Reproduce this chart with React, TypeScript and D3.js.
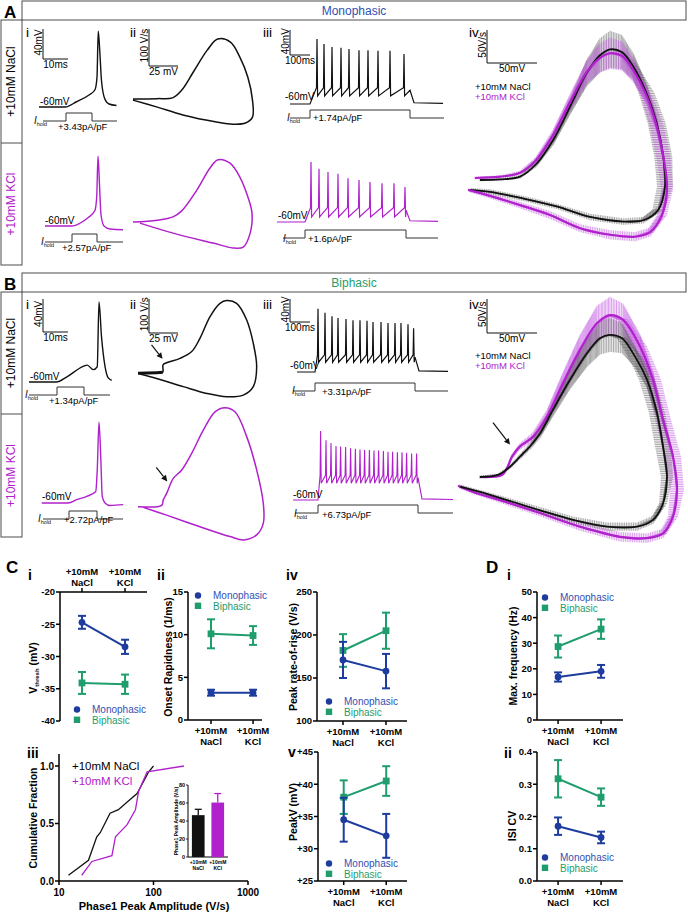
import React from 'react';
import * as d3 from 'd3';

type P = [number, number];

const FONT = "'Liberation Sans', Arial, Helvetica, sans-serif";
const BLUE = '#1d3c9d';
const BLUE_T = '#3050b4';
const GREEN = '#1f9d6c';
const MAG = '#b020cc';
const MAG_ERR = '#c25be0';
const INK = '#111111';
const GREY = '#4d4d4d';

// ================= DATA: panels A/B =================
// i: membrane potential traces (ms, mV)
const aiNaClTrace: P[] = [[0, -60], [10.5, -60], [15, -53], [20, -44], [22.4, -37], [23.2, -20], [23.7, 41], [24.3, 15], [25, -25], [26.3, -49], [28, -56], [31, -58]];
const aiKClTrace: P[] = [[2.4, -60], [13.2, -60], [16.5, -56], [19.6, -49], [22.4, -39], [23.1, -20], [23.6, 33], [24.2, -5], [24.8, -45], [26, -60], [28.4, -64], [33.6, -65]];
const biNaClTrace: P[] = [[0, -60], [11, -60], [15, -54], [21.7, -41], [23.3, -39.5], [25.7, -45], [27.3, -41.5], [28, 37], [29, -5], [30.4, -41], [31.7, -55], [33.1, -58]];
const biKClTrace: P[] = [[5.1, -60], [15.7, -60], [19.1, -56], [23.1, -52], [26.7, -46], [27.3, -20], [28, 38], [28.7, -4], [29.3, -52], [30.4, -60], [32.4, -63], [37.7, -62]];
// i: current steps (ms, pA/pF)
const aiNaClStim: P[] = [[1.6, 0], [10.8, 0], [10.8, 3.43], [21.2, 3.43], [21.2, 0], [31.2, 0]];
const aiKClStim: P[] = [[2.4, 0], [13.2, 0], [13.2, 2.57], [23.2, 2.57], [23.2, 0], [33.6, 0]];
const biNaClStim: P[] = [[0, 0], [11.2, 0], [11.2, 1.34], [22, 1.34], [22, 0], [32.4, 0]];
const biKClStim: P[] = [[5.6, 0], [16, 0], [16, 2.72], [27.2, 2.72], [27.2, 0], [37.6, 0]];

// ii: phase plots (mV, V/s)
const aiiNaCl: P[] = [[-60, 0], [-39, 1], [-26, 3], [-18, 24], [-8, 73], [4, 132], [13, 162], [24, 154], [32, 114], [39, 59], [43, -3], [43, -49], [37, -65], [26, -68], [12, -62], [-17, -43], [-39, -22], [-60, -3]];
const aiiKCl: P[] = [[-60, 0], [-39, 5], [-25.5, 14], [-18, 30], [-5, 86], [6.4, 146], [13.3, 168], [23.6, 159], [32, 122], [39, 68], [42.6, 24], [41, -30], [35, -68], [26, -70], [9, -57], [-25.5, -30], [-54, -3]];
const biiNaCl: P[] = [[-60, -1], [-44, 1], [-38.7, 2], [-38.4, 24], [-35.4, 30], [-23.8, 43], [-13.7, 63], [-6.6, 102], [2.1, 166], [10.7, 205], [16.5, 213], [25, 205], [33.7, 156], [39.4, 87], [42.3, 19], [39.4, -40], [30.8, -65], [16.5, -70], [-0.8, -60], [-21, -40], [-44, -16], [-58.3, -3]];
const biiKCl: P[] = [[-60, 1], [-39.6, 5], [-38.2, 21], [-35.3, 40], [-29.6, 84], [-22.3, 109], [-13.7, 158], [-3.7, 226], [6.4, 280], [15, 292], [23.6, 280], [33.7, 207], [42.3, 109], [48, 11], [48, -48], [42.3, -82], [30.8, -97], [19.3, -87], [-6.6, -58], [-35.3, -24], [-55.4, -1]];

// iii: spike trains — spike times (ms) and peak potentials (mV)
const aiiiNaClSpikeT = [135, 170, 210, 255, 295, 345, 390, 440, 500, 570];
const aiiiNaClPeak = [44, 36, 31, 30, 28, 26, 26, 25, 25, 20];
const aiiiKClSpikeT = [170, 210, 255, 305, 355, 410, 465, 525, 585, 640];
const aiiiKClPeak = [36, 25, 20, 17, 10, 7, 4, 2, 2, -4];
const biiiNaClSpikeT = [140, 175, 210, 240, 280, 315, 350, 385, 415, 455, 490, 525, 555, 590, 618];
const biiiNaClPeak = [50, 43, 37, 34, 32, 30, 30, 29, 27, 27, 25, 25, 25, 23, 16];
const biiiKClSpikeT = [138, 165, 190, 215, 238, 263, 288, 312, 335, 358, 382, 405, 428, 452, 475, 498, 522, 545, 568, 593, 618];
const biiiKClPeak = [60, 44, 39, 34, 33, 32, 30, 29, 28, 27, 27, 26, 26, 25, 24, 24, 23, 23, 22, 21, 21];
const aiiiNaClStim: P[] = [[0, 0], [100, 0], [100, 1.74], [600, 1.74], [600, 0], [770, 0]];
const aiiiKClStim: P[] = [[30, 0], [140, 0], [140, 1.6], [645, 1.6], [645, 0], [805, 0]];
const biiiNaClStim: P[] = [[15, 0], [125, 0], [125, 3.31], [625, 3.31], [625, 0], [790, 0]];
const biiiKClStim: P[] = [[10, 0], [125, 0], [125, 6.73], [625, 6.73], [625, 0], [800, 0]];

// iv: averaged phase plots (mV, V/s) with SEM in mV (ex) and V/s (ey)
const aivNaCl: P[] = [[-60, 0], [-40, 1], [-20, 5], [-3.3, 25], [13.3, 61], [30, 111], [46.7, 162], [60, 189], [70, 198], [81.7, 194], [93.3, 172], [106.7, 131], [116.7, 86], [123.3, 35], [125, -10], [118.3, -45], [103.3, -61], [83.3, -63], [50, -56], [16.7, -40], [-16.7, -28], [-50, -18], [-70, -15]];
const aivNaClEx = [1, 1, 1, 2, 2, 2, 2, 2, 2, 3, 5, 8, 9, 9, 8, 6, 4, 3, 2, 2, 2, 2, 1];
const aivNaClEy = [2, 2, 3, 5, 8, 12, 20, 26, 28, 26, 20, 14, 10, 6, 5, 5, 5, 5, 5, 4, 4, 4, 3];
const aivKCl: P[] = [[-65, 3], [-40, 5], [-20, 11], [-4, 30], [13, 68], [30, 118], [47, 164], [60, 185], [70, 192], [82, 188], [93, 167], [107, 126], [117, 80], [124, 30], [127, -15], [122, -53], [110, -79], [95, -86], [70, -83], [40, -73], [10, -53], [-20, -38], [-50, -24], [-72, -15]];
const aivKClEx = [1, 1, 1, 2, 2, 2, 2, 2, 2, 3, 4, 6, 7, 7, 6, 5, 4, 3, 3, 2, 2, 2, 2, 1];
const aivKClEy = [2, 2, 3, 5, 8, 12, 18, 22, 24, 22, 18, 12, 9, 6, 6, 6, 7, 7, 7, 6, 6, 5, 4, 3];
const bivNaCl: P[] = [[-60, 0], [-42, 3], [-30, 15], [-20, 30], [-10, 45], [0, 64], [13, 99], [30, 143], [47, 182], [60, 204], [70, 209], [82, 204], [95, 177], [107, 143], [117, 94], [123, 45], [127, 0], [123, -39], [113, -63], [97, -73], [67, -73], [33, -63], [0, -49], [-33, -34], [-60, -22], [-80, -14]];
const bivNaClEx = [1, 1, 1, 1, 1, 2, 2, 2, 2, 2, 3, 5, 7, 8, 8, 8, 6, 4, 3, 2, 2, 2, 2, 2, 1, 1];
const bivNaClEy = [2, 2, 3, 4, 5, 7, 10, 14, 20, 24, 25, 22, 16, 12, 8, 6, 6, 6, 6, 6, 6, 5, 5, 4, 3, 3];
const bivKCl: P[] = [[-60, 0], [-38, 3], [-33, 13], [-28, 30], [-20, 45], [-7, 59], [7, 89], [23, 138], [40, 187], [57, 226], [70, 238], [83, 231], [100, 192], [113, 143], [123, 84], [133, 30], [137, -19], [133, -58], [123, -83], [107, -90], [80, -88], [40, -73], [0, -53], [-40, -34], [-67, -22], [-82, -13]];
const bivKClEx = [1, 1, 1, 1, 1, 2, 2, 2, 2, 2, 3, 5, 7, 8, 8, 8, 7, 5, 4, 3, 3, 2, 2, 2, 1, 1];
const bivKClEy = [2, 2, 3, 4, 5, 7, 10, 16, 22, 26, 27, 24, 18, 12, 8, 6, 6, 7, 7, 7, 7, 6, 5, 4, 3, 3];

// ================= DATA: panels C/D =================
const categories = ['NaCl', 'KCl'];
const vthreshMono = [-24.7, -28.5];
const vthreshMonoErr = [1.0, 1.1];
const vthreshBi = [-34.1, -34.3];
const vthreshBiErr = [1.7, 1.5];
const onsetMono = [3.2, 3.2];
const onsetMonoErr = [0.35, 0.35];
const onsetBi = [10.1, 9.9];
const onsetBiErr = [1.7, 1.1];
const riseMono = [171, 158];
const riseMonoErr = [21, 20];
const riseBi = [182, 205];
const riseBiErr = [19, 21];
const peakVMono = [34.5, 32.0];
const peakVMonoErr = [3.4, 3.4];
const peakVBi = [38.0, 40.5];
const peakVBiErr = [2.6, 2.3];
const freqMono = [16.8, 19.0];
const freqMonoErr = [1.8, 2.5];
const freqBi = [28.7, 35.5];
const freqBiErr = [4.3, 3.8];
const isiMono = [0.17, 0.135];
const isiMonoErr = [0.027, 0.018];
const isiBi = [0.317, 0.26];
const isiBiErr = [0.058, 0.027];
// C iii cumulative distributions (V/s, fraction)
const cdfNaCl: P[] = [[12.6, 0.05], [20.5, 0.18], [25.1, 0.385], [27.3, 0.42], [34.7, 0.59], [42.5, 0.62], [55, 0.7], [67, 0.76], [89, 0.95], [100, 1.0]];
const cdfKCl: P[] = [[17.4, 0.05], [22.3, 0.17], [36.3, 0.22], [39.6, 0.385], [52.6, 0.49], [64.4, 0.62], [69.6, 0.78], [85.6, 0.95], [210, 1.0]];
const ampMean = [46.5, 60.5];
const ampErr = [6.5, 10];

// ================= helpers =================
const lin = (d0: number, px0: number, pxPerUnit: number) =>
  d3.scaleLinear().domain([d0, d0 + 1]).range([px0, px0 + pxPerUnit]);

function buildTrain(spT: number[], pk: number[], tStart: number, tOn: number, tOff: number, tEnd: number, thr: number, ahp: number): P[] {
  const out: P[] = [[tStart, -60], [tOn, -60]];
  spT.forEach((t, i) => {
    out.push([t - 2.5, thr]);
    out.push([t, pk[i]]);
    out.push([t + 3, ahp]);
  });
  out.push([tOff, thr - 4]);
  out.push([tOff + 20, -58]);
  out.push([tEnd, -59]);
  return out;
}

function pathOf(data: P[], xs: any, ys: any, curve: any = d3.curveLinear) {
  return d3.line<P>().x(d => xs(d[0])).y(d => ys(d[1])).curve(curve)(data) || '';
}

function hatch(pts: P[], ex: number[], ey: number[], xs: any, ys: any, step = 1.8) {
  let d = '';
  const pxV = Math.abs(xs(1) - xs(0));
  const pxDv = Math.abs(ys(1) - ys(0));
  for (let i = 0; i < pts.length - 1; i++) {
    const x1 = xs(pts[i][0]), y1 = ys(pts[i][1]);
    const x2 = xs(pts[i + 1][0]), y2 = ys(pts[i + 1][1]);
    const len = Math.hypot(x2 - x1, y2 - y1);
    const n = Math.max(1, Math.round(len / step));
    for (let k = 0; k < n; k++) {
      const f = k / n;
      const x = x1 + (x2 - x1) * f, y = y1 + (y2 - y1) * f;
      const e1 = ((ey[i] ?? 2) + ((ey[i + 1] ?? 2) - (ey[i] ?? 2)) * f) * pxDv;
      const e2 = ((ex[i] ?? 1) + ((ex[i + 1] ?? 1) - (ex[i] ?? 1)) * f) * pxV;
      d += `M${x.toFixed(2)},${(y - e1).toFixed(2)}V${(y + e1).toFixed(2)}`;
      if (e2 > 1.2) d += `M${(x - e2).toFixed(2)},${y.toFixed(2)}H${(x + e2).toFixed(2)}`;
    }
  }
  return d;
}

function ScaleBar({ x, y, w, h, vLabel, hLabel, fs = 10 }: any) {
  return (
    <g>
      <path d={`M${x},${y}V${y + h}H${x + w}`} fill="none" stroke={INK} strokeWidth={1} />
      <text transform={`translate(${x - 1.5},${y + h * 0.45}) rotate(-90)`} textAnchor="middle" fontSize={fs}>{vLabel}</text>
      <text x={x + w / 2} y={y + h + 9} textAnchor="middle" fontSize={fs}>{hLabel}</text>
    </g>
  );
}

function Arrow({ x1, y1, x2, y2 }: any) {
  const a = Math.atan2(y2 - y1, x2 - x1);
  const L = 6, W = 3;
  const bx = x2 - L * Math.cos(a), by = y2 - L * Math.sin(a);
  const p1 = [bx + W * Math.sin(a), by - W * Math.cos(a)];
  const p2 = [bx - W * Math.sin(a), by + W * Math.cos(a)];
  return (
    <g>
      <line x1={x1} y1={y1} x2={bx} y2={by} stroke={INK} strokeWidth={1.2} />
      <polygon points={`${x2},${y2} ${p1[0]},${p1[1]} ${p2[0]},${p2[1]}`} fill={INK} />
    </g>
  );
}

function IHold({ x, y }: any) {
  return (
    <text x={x} y={y} fontSize={10} fill={INK}>
      <tspan fontStyle="italic">I</tspan>
      <tspan fontSize={5.5} dy={2}>hold</tspan>
    </text>
  );
}

// Current-step trace: height fixed in pixels, time scaled like the voltage trace
function Stim({ data, xs, base, color = '#333' }: any) {
  const amp = d3.max(data, (d: P) => d[1]) as number;
  const ys = d3.scaleLinear().domain([0, amp]).range([base, base - 8]);
  return <path d={pathOf(data, xs, ys)} fill="none" stroke={color} strokeWidth={1} />;
}

// ================= Section A / B =================
function TraceSection({ top, letter, title, titleColor, d }: any) {
  const rowSplit = top + d.split;
  const bottom = top + d.bottom;
  return (
    <g>
      <text x={4} y={top + 17} fontSize={17} fontWeight="bold">{letter}</text>
      <rect x={22} y={top} width={664} height={19} fill="none" stroke={GREY} strokeWidth={1} />
      <text x={354} y={top + 14} textAnchor="middle" fontSize={12} fill={titleColor}>{title}</text>
      <rect x={1} y={top + 19} width={21} height={bottom - top - 19} fill="none" stroke={GREY} strokeWidth={1} />
      <line x1={1} x2={22} y1={rowSplit} y2={rowSplit} stroke={GREY} strokeWidth={1} />
      <text transform={`translate(15,${(top + 19 + rowSplit) / 2}) rotate(-90)`} textAnchor="middle" fontSize={12}>+10mM NaCl</text>
      <text transform={`translate(15,${(rowSplit + bottom) / 2}) rotate(-90)`} textAnchor="middle" fontSize={12} fill={MAG}>+10mM KCl</text>
      {[['i', 26], ['ii', 130], ['iii', 263], ['iv', 469]].map(([s, x]) => (
        <text key={s as string} x={x as number} y={top + 36} fontSize={13.5}>{s}</text>
      ))}
    </g>
  );
}

function SectionA() {
  // i
  const xi = lin(0, 39, 2.5);
  const yiN = lin(-60, 107, -0.75);
  const yiK = lin(-60, 226, -0.75);
  // ii
  const xii = lin(-60, 133, 1.16);
  const yiiN = lin(0, 99, -0.37);
  const yiiK = lin(0, 222, -0.37);
  // iii
  const xiiiN = lin(0, 290, 0.2);
  const xiiiK = lin(0, 277, 0.2);
  const yiiiN = lin(-60, 104, -0.625);
  const yiiiK = lin(-60, 222, -0.625);
  const trN = buildTrain(aiiiNaClSpikeT, aiiiNaClPeak, 0, 100, 600, 765, -34, -47);
  const trK = buildTrain(aiiiKClSpikeT, aiiiKClPeak, 0, 140, 645, 805, -37, -52);
  // iv
  const xiv = lin(-60, 480, 1);
  const yiv = lin(0, 180, -0.66);
  const mono = d3.curveMonotoneX;
  const cr = d3.curveCatmullRom.alpha(0.5);
  return (
    <g>
      <TraceSection top={1} letter="A" title="Monophasic" titleColor={BLUE_T} d={{ split: 142, bottom: 264 }} />
      {/* i */}
      <ScaleBar x={43} y={29} w={xi(10) - xi(0)} h={yiN(-60) - yiN(-20)} vLabel="40mV" hLabel="10ms" />
      <path d={pathOf(aiNaClTrace, xi, yiN, mono)} fill="none" stroke={INK} strokeWidth={1.4} />
      <text x={40} y={105} fontSize={10}>-60mV</text>
      <Stim data={aiNaClStim} xs={xi} base={121} />
      <IHold x={34} y={124} />
      <text x={58} y={130} fontSize={9.5}>+3.43pA/pF</text>
      <path d={pathOf(aiKClTrace, xi, yiK, mono)} fill="none" stroke={MAG} strokeWidth={1.4} />
      <text x={45} y={224} fontSize={10}>-60mV</text>
      <Stim data={aiKClStim} xs={xi} base={242} />
      <IHold x={41} y={245} />
      <text x={62} y={251} fontSize={9.5}>+2.57pA/pF</text>
      {/* ii */}
      <ScaleBar x={149} y={29} w={xii(-35) - xii(-60)} h={yiiN(0) - yiiN(100)} vLabel="100 V/s" hLabel="25 mV" />
      <path d={pathOf(aiiNaCl, xii, yiiN, cr)} fill="none" stroke={INK} strokeWidth={1.5} />
      <path d={pathOf(aiiKCl, xii, yiiK, cr)} fill="none" stroke={MAG} strokeWidth={1.5} />
      {/* iii */}
      <ScaleBar x={290} y={30} w={xiiiN(100) - xiiiN(0)} h={yiiiN(-60) - yiiiN(-20)} vLabel="40mV" hLabel="100ms" />
      <path d={pathOf(trN, xiiiN, yiiiN)} fill="none" stroke={INK} strokeWidth={1.2} />
      <text x={285} y={100} fontSize={10}>-60mV</text>
      <Stim data={aiiiNaClStim} xs={xiiiN} base={118} />
      <IHold x={287} y={121} />
      <text x={313} y={121} fontSize={9.5}>+1.74pA/pF</text>
      <path d={pathOf(trK, xiiiK, yiiiK)} fill="none" stroke={MAG} strokeWidth={1.2} />
      <text x={278} y={219} fontSize={10}>-60mV</text>
      <Stim data={aiiiKClStim} xs={xiiiK} base={238} />
      <IHold x={283} y={242} />
      <text x={308} y={242} fontSize={9.5}>+1.6pA/pF</text>
      {/* iv */}
      <ScaleBar x={487} y={30} w={xiv(-10) - xiv(-60)} h={yiv(0) - yiv(50)} vLabel="50V/s" hLabel="50mV" />
      <text x={475} y={90} fontSize={9.5}>+10mM NaCl</text>
      <text x={475} y={100} fontSize={9.5} fill={MAG}>+10mM KCl</text>
      <path d={hatch(aivNaCl, aivNaClEx, aivNaClEy, xiv, yiv)} fill="none" stroke="#555" strokeWidth={0.7} strokeOpacity={0.75} />
      <path d={hatch(aivKCl, aivKClEx, aivKClEy, xiv, yiv)} fill="none" stroke={MAG_ERR} strokeWidth={0.7} strokeOpacity={0.85} />
      <path d={pathOf(aivNaCl, xiv, yiv, cr)} fill="none" stroke={INK} strokeWidth={1.8} />
      <path d={pathOf(aivKCl, xiv, yiv, cr)} fill="none" stroke={MAG} strokeWidth={2.2} />
    </g>
  );
}

function SectionB() {
  const xi = lin(0, 29, 2.5);
  const yiN = lin(-60, 382, -0.825);
  const yiK = lin(-60, 503, -0.825);
  const xii = lin(-60, 138, 1.16);
  const yiiN = lin(0, 373, -0.34);
  const yiiK = lin(0, 507, -0.34);
  const xiiiN = lin(0, 290, 0.2);
  const xiiiK = lin(0, 293, 0.2);
  const yiiiN = lin(-60, 372, -0.575);
  const yiiiK = lin(-60, 500, -0.575);
  const trN = buildTrain(biiiNaClSpikeT, biiiNaClPeak, 35, 125, 625, 790, -30, -43);
  const trK = buildTrain(biiiKClSpikeT, biiiKClPeak, 0, 125, 625, 800, -17, -31);
  const xiv = lin(-60, 480, 1);
  const yiv = lin(0, 477, -0.68);
  const mono = d3.curveMonotoneX;
  const cr = d3.curveCatmullRom.alpha(0.5);
  const aN = biiNaCl[4], aK = biiKCl[4], aIv = bivKCl[3];
  return (
    <g>
      <TraceSection top={273} letter="B" title="Biphasic" titleColor={GREEN} d={{ split: 141, bottom: 264 }} />
      {/* i */}
      <ScaleBar x={43} y={299} w={xi(10) - xi(0)} h={yiN(-60) - yiN(-20)} vLabel="40mV" hLabel="10ms" />
      <path d={pathOf(biNaClTrace, xi, yiN, mono)} fill="none" stroke={INK} strokeWidth={1.4} />
      <text x={30} y={380} fontSize={10}>-60mV</text>
      <Stim data={biNaClStim} xs={xi} base={395} />
      <IHold x={25} y={398} />
      <text x={49} y={404} fontSize={9.5}>+1.34pA/pF</text>
      <path d={pathOf(biKClTrace, xi, yiK, mono)} fill="none" stroke={MAG} strokeWidth={1.4} />
      <text x={42} y={500} fontSize={10}>-60mV</text>
      <Stim data={biKClStim} xs={xi} base={519} />
      <IHold x={38} y={522} />
      <text x={64} y={523} fontSize={9.5}>+2.72pA/pF</text>
      {/* ii */}
      <ScaleBar x={149} y={299} w={xii(-35) - xii(-60)} h={yiiN(0) - yiiN(100)} vLabel="100 V/s" hLabel="25 mV" />
      <path d={pathOf(biiNaCl.slice(0, 3), xii, yiiN)} fill="none" stroke={INK} strokeWidth={3} />
      <path d={pathOf(biiNaCl, xii, yiiN, cr)} fill="none" stroke={INK} strokeWidth={1.5} />
      <path d={pathOf(biiKCl, xii, yiiK, cr)} fill="none" stroke={MAG} strokeWidth={1.5} />
      <Arrow x1={xii(aN[0]) - 15} y1={yiiN(aN[1]) - 18} x2={xii(aN[0]) - 4} y2={yiiN(aN[1]) - 4} />
      <Arrow x1={xii(aK[0]) - 17} y1={yiiK(aK[1]) - 11} x2={xii(aK[0]) - 6} y2={yiiK(aK[1]) + 3} />
      {/* iii */}
      <ScaleBar x={290} y={299} w={xiiiN(100) - xiiiN(0)} h={yiiiN(-60) - yiiiN(-20)} vLabel="40mV" hLabel="100ms" />
      <path d={pathOf(trN, xiiiN, yiiiN)} fill="none" stroke={INK} strokeWidth={1.2} />
      <text x={290} y={369} fontSize={10}>-60mV</text>
      <Stim data={biiiNaClStim} xs={xiiiN} base={391} />
      <IHold x={292} y={394} />
      <text x={322} y={395} fontSize={9.5}>+3.31pA/pF</text>
      <path d={pathOf(trK, xiiiK, yiiiK)} fill="none" stroke={MAG} strokeWidth={1.1} />
      <text x={293} y={498} fontSize={10}>-60mV</text>
      <Stim data={biiiKClStim} xs={xiiiK} base={513} />
      <IHold x={294} y={517} />
      <text x={322} y={518} fontSize={9.5}>+6.73pA/pF</text>
      {/* iv */}
      <ScaleBar x={487} y={299} w={xiv(-10) - xiv(-60)} h={yiv(0) - yiv(50)} vLabel="50V/s" hLabel="50mV" />
      <text x={475} y={359} fontSize={9.5}>+10mM NaCl</text>
      <text x={475} y={369} fontSize={9.5} fill={MAG}>+10mM KCl</text>
      <path d={hatch(bivKCl, bivKClEx, bivKClEy, xiv, yiv)} fill="none" stroke={MAG_ERR} strokeWidth={0.7} strokeOpacity={0.85} />
      <path d={hatch(bivNaCl, bivNaClEx, bivNaClEy, xiv, yiv)} fill="none" stroke="#555" strokeWidth={0.7} strokeOpacity={0.75} />
      <path d={pathOf(bivKCl, xiv, yiv, cr)} fill="none" stroke={MAG} strokeWidth={2.2} />
      <path d={pathOf(bivNaCl, xiv, yiv, cr)} fill="none" stroke={INK} strokeWidth={1.8} />
      <Arrow x1={xiv(aIv[0]) - 19} y1={yiv(aIv[1]) - 34} x2={xiv(aIv[0]) - 2} y2={yiv(aIv[1]) - 12} />
    </g>
  );
}

// ================= Section C / D =================
function ErrChart(p: any) {
  const { axisX, axisEnd, yTop, yBot, domain, ticks, fmt, pad, align, mono, monoErr, bi, biErr, xTop, legend } = p;
  const y = d3.scaleLinear().domain(domain).range([yBot, yTop]);
  const x = d3.scalePoint<string>().domain(categories).range([axisX, axisEnd]).padding(pad).align(align);
  const axY = xTop ? yTop : yBot;
  const series = [
    { vals: bi, errs: biErr, color: GREEN, shape: 'square' },
    { vals: mono, errs: monoErr, color: BLUE, shape: 'circle' },
  ];
  const ln = d3.line<number>().x((_, i) => x(categories[i]) as number).y(v => y(v));
  return (
    <g>
      <line x1={axisX} x2={axisX} y1={yTop} y2={yBot} stroke="#000" strokeWidth={1.5} />
      {ticks.map((t: number) => (
        <g key={t}>
          <line x1={axisX - 4} x2={axisX} y1={y(t)} y2={y(t)} stroke="#000" strokeWidth={1.5} />
          <text x={axisX - 5} y={y(t)} dy="0.36em" textAnchor="end" fontSize={9.5} fontWeight="bold">{fmt(t)}</text>
        </g>
      ))}
      <line x1={axisX} x2={axisEnd} y1={axY} y2={axY} stroke="#000" strokeWidth={1.5} />
      {categories.map(c => {
        const cx = x(c) as number;
        return (
          <g key={c}>
            <line x1={cx} x2={cx} y1={axY} y2={xTop ? axY - 4 : axY + 4} stroke="#000" strokeWidth={1.5} />
            <text x={cx} y={xTop ? axY - 17 : axY + 13.5} textAnchor="middle" fontSize={9.5} fontWeight="bold">+10mM</text>
            <text x={cx} y={xTop ? axY - 6 : axY + 25} textAnchor="middle" fontSize={9.5} fontWeight="bold">{c}</text>
          </g>
        );
      })}
      {series.map((s, si) => (
        <g key={si}>
          <path d={ln(s.vals) || ''} fill="none" stroke={s.color} strokeWidth={2} />
          {s.vals.map((v: number, i: number) => {
            const cx = x(categories[i]) as number;
            const e = s.errs[i];
            return (
              <g key={i}>
                <line x1={cx} x2={cx} y1={y(v - e)} y2={y(v + e)} stroke={s.color} strokeWidth={2} />
                <line x1={cx - 4} x2={cx + 4} y1={y(v - e)} y2={y(v - e)} stroke={s.color} strokeWidth={2} />
                <line x1={cx - 4} x2={cx + 4} y1={y(v + e)} y2={y(v + e)} stroke={s.color} strokeWidth={2} />
                {s.shape === 'circle'
                  ? <circle cx={cx} cy={y(v)} r={3.4} fill={s.color} />
                  : <rect x={cx - 3.4} y={y(v) - 3.4} width={6.8} height={6.8} fill={s.color} />}
              </g>
            );
          })}
        </g>
      ))}
      <g>
        <circle cx={legend.x} cy={legend.y - 0.5} r={3.2} fill={BLUE} />
        <text x={legend.x + 15} y={legend.y + 3} fontSize={10} fill={BLUE_T}>Monophasic</text>
        <rect x={legend.x - 3.2} y={legend.y + 9.8 - 3.2} width={6.4} height={6.4} fill={GREEN} />
        <text x={legend.x + 15} y={legend.y + 13.6} fontSize={10} fill={GREEN}>Biphasic</text>
      </g>
    </g>
  );
}

function YLabel({ x, y, children }: any) {
  return (
    <text transform={`translate(${x},${y}) rotate(-90)`} textAnchor="middle" fontSize={10.5} fontWeight="bold">{children}</text>
  );
}

function CdfPanel() {
  const xs = d3.scaleLog().domain([10, 1000]).range([59, 248]);
  const ys = d3.scaleLinear().domain([0, 1.1]).range([881, 754.5]);
  const ticksY = [0, 0.5, 1.0];
  const ticksX = [10, 100, 1000];
  // inset
  const iy = d3.scaleLinear().domain([0, 80]).range([857, 785]);
  const ix = d3.scaleBand<string>().domain(categories).range([188, 228]).paddingInner(0.35).paddingOuter(0.2);
  const barColors = [INK, MAG];
  return (
    <g>
      <line x1={59} x2={59} y1={754} y2={881} stroke="#000" strokeWidth={1.5} />
      <line x1={59} x2={248} y1={881} y2={881} stroke="#000" strokeWidth={1.5} />
      {ticksY.map(t => (
        <g key={t}>
          <line x1={55} x2={59} y1={ys(t)} y2={ys(t)} stroke="#000" strokeWidth={1.5} />
          <text x={54} y={ys(t)} dy="0.36em" textAnchor="end" fontSize={10} fontWeight="bold">{t.toFixed(1)}</text>
        </g>
      ))}
      {ticksX.map(t => (
        <g key={t}>
          <line x1={xs(t)} x2={xs(t)} y1={881} y2={885} stroke="#000" strokeWidth={1.5} />
          <text x={xs(t)} y={896} textAnchor="middle" fontSize={10} fontWeight="bold">{t}</text>
        </g>
      ))}
      <text x={154} y={910} textAnchor="middle" fontSize={11} fontWeight="bold">Phase1 Peak Amplitude (V/s)</text>
      <YLabel x={37} y={818}>Cumulative Fraction</YLabel>
      <path d={pathOf(cdfNaCl, xs, ys)} fill="none" stroke={INK} strokeWidth={1.3} />
      <path d={pathOf(cdfKCl, xs, ys)} fill="none" stroke={MAG} strokeWidth={1.3} />
      <text x={72} y={770} fontSize={11.5}>+10mM NaCl</text>
      <text x={72} y={785} fontSize={11.5} fill={MAG}>+10mM KCl</text>
      {/* inset */}
      <line x1={188} x2={188} y1={785} y2={857} stroke="#000" strokeWidth={1} />
      <line x1={188} x2={228} y1={857} y2={857} stroke="#000" strokeWidth={1} />
      {[0, 20, 40, 60, 80].map(t => (
        <g key={t}>
          <line x1={186} x2={188} y1={iy(t)} y2={iy(t)} stroke="#000" strokeWidth={0.8} />
          <text x={185} y={iy(t)} dy="0.35em" textAnchor="end" fontSize={5.5} fontWeight="bold">{t}</text>
        </g>
      ))}
      {categories.map((c, i) => {
        const bx = ix(c) as number;
        const bw = ix.bandwidth();
        const cx = bx + bw / 2;
        return (
          <g key={c}>
            <rect x={bx} y={iy(ampMean[i])} width={bw} height={iy(0) - iy(ampMean[i])} fill={barColors[i]} />
            <line x1={cx} x2={cx} y1={iy(ampMean[i])} y2={iy(ampMean[i] + ampErr[i])} stroke={barColors[i]} strokeWidth={1.3} />
            <line x1={cx - 3.5} x2={cx + 3.5} y1={iy(ampMean[i] + ampErr[i])} y2={iy(ampMean[i] + ampErr[i])} stroke={barColors[i]} strokeWidth={1.3} />
            <text x={cx} y={864} textAnchor="middle" fontSize={5} fontWeight="bold">+10mM</text>
            <text x={cx} y={870} textAnchor="middle" fontSize={5} fontWeight="bold">{c}</text>
          </g>
        );
      })}
      <text transform={`translate(178,821) rotate(-90)`} textAnchor="middle" fontSize={5} fontWeight="bold">Phase1 Peak Amplitude (V/s)</text>
    </g>
  );
}

function SectionCD() {
  const d0 = (t: number) => `${t}`;
  return (
    <g>
      <text x={6} y={573} fontSize={17} fontWeight="bold">C</text>
      <text x={486} y={573} fontSize={17} fontWeight="bold">D</text>
      <text x={28} y={580} fontSize={14} fontWeight="bold">i</text>
      <text x={157} y={580} fontSize={14} fontWeight="bold">ii</text>
      <text x={286} y={580} fontSize={14} fontWeight="bold">iv</text>
      <text x={507} y={580} fontSize={14} fontWeight="bold">i</text>
      <text x={27} y={758} fontSize={14} fontWeight="bold">iii</text>
      <text x={288} y={757} fontSize={14} fontWeight="bold">v</text>
      <text x={504} y={758} fontSize={14} fontWeight="bold">ii</text>

      <ErrChart axisX={60} axisEnd={147} yTop={592} yBot={721} domain={[-40, -20]} ticks={[-40, -35, -30, -25, -20]} fmt={d0}
        pad={0.51} align={0.5} mono={vthreshMono} monoErr={vthreshMonoErr} bi={vthreshBi} biErr={vthreshBiErr} xTop legend={{ x: 77, y: 710 }} />
      <text transform="translate(37,668) rotate(-90)" textAnchor="middle" fontSize={10.5} fontWeight="bold">
        <tspan>V</tspan><tspan fontSize={6} dy={2}>thresh</tspan><tspan dy={-2}> (mV)</tspan>
      </text>

      <ErrChart axisX={188} axisEnd={262} yTop={592} yBot={720} domain={[0, 15]} ticks={[0, 5, 10, 15]} fmt={d0}
        pad={0.38} align={0.72} mono={onsetMono} monoErr={onsetMonoErr} bi={onsetBi} biErr={onsetBiErr} legend={{ x: 198, y: 596 }} />
      <YLabel x={172} y={657}>Onset Rapidness (1/ms)</YLabel>

      <ErrChart axisX={317} axisEnd={407} yTop={592} yBot={721} domain={[100, 250]} ticks={[100, 150, 200, 250]} fmt={d0}
        pad={0.547} align={0.553} mono={riseMono} monoErr={riseMonoErr} bi={riseBi} biErr={riseBiErr} legend={{ x: 329, y: 702 }} />
      <YLabel x={297} y={657}>Peak rate-of-rise (V/s)</YLabel>

      <ErrChart axisX={318} axisEnd={407} yTop={752} yBot={881} domain={[25, 45]} ticks={[25, 30, 35, 40, 45]} fmt={(t: number) => `+${t}`}
        pad={0.547} align={0.553} mono={peakVMono} monoErr={peakVMonoErr} bi={peakVBi} biErr={peakVBiErr} legend={{ x: 329, y: 864 }} />
      <YLabel x={297} y={812}>PeakV (mV)</YLabel>

      <ErrChart axisX={537} axisEnd={623} yTop={592} yBot={720} domain={[0, 50]} ticks={[0, 10, 20, 30, 40, 50]} fmt={d0}
        pad={0.5} align={0.49} mono={freqMono} monoErr={freqMonoErr} bi={freqBi} biErr={freqBiErr} legend={{ x: 545, y: 598 }} />
      <YLabel x={517} y={656}>Max. frequency (Hz)</YLabel>

      <ErrChart axisX={537} axisEnd={623} yTop={752} yBot={881} domain={[0, 0.4]} ticks={[0, 0.1, 0.2, 0.3, 0.4]} fmt={(t: number) => t.toFixed(1)}
        pad={0.5} align={0.49} mono={isiMono} monoErr={isiMonoErr} bi={isiBi} biErr={isiBiErr} legend={{ x: 545, y: 858 }} />
      <YLabel x={516} y={826}>ISI CV</YLabel>

      <CdfPanel />
    </g>
  );
}

export default function App() {
  return (
    <svg width={688} height={912} viewBox="0 0 688 912" fontFamily={FONT}
      style={{ position: 'absolute', left: 0, top: 0, display: 'block', background: '#fff' }}>
      <rect width={688} height={912} fill="#fff" />
      <SectionA />
      <SectionB />
      <SectionCD />
    </svg>
  );
}
